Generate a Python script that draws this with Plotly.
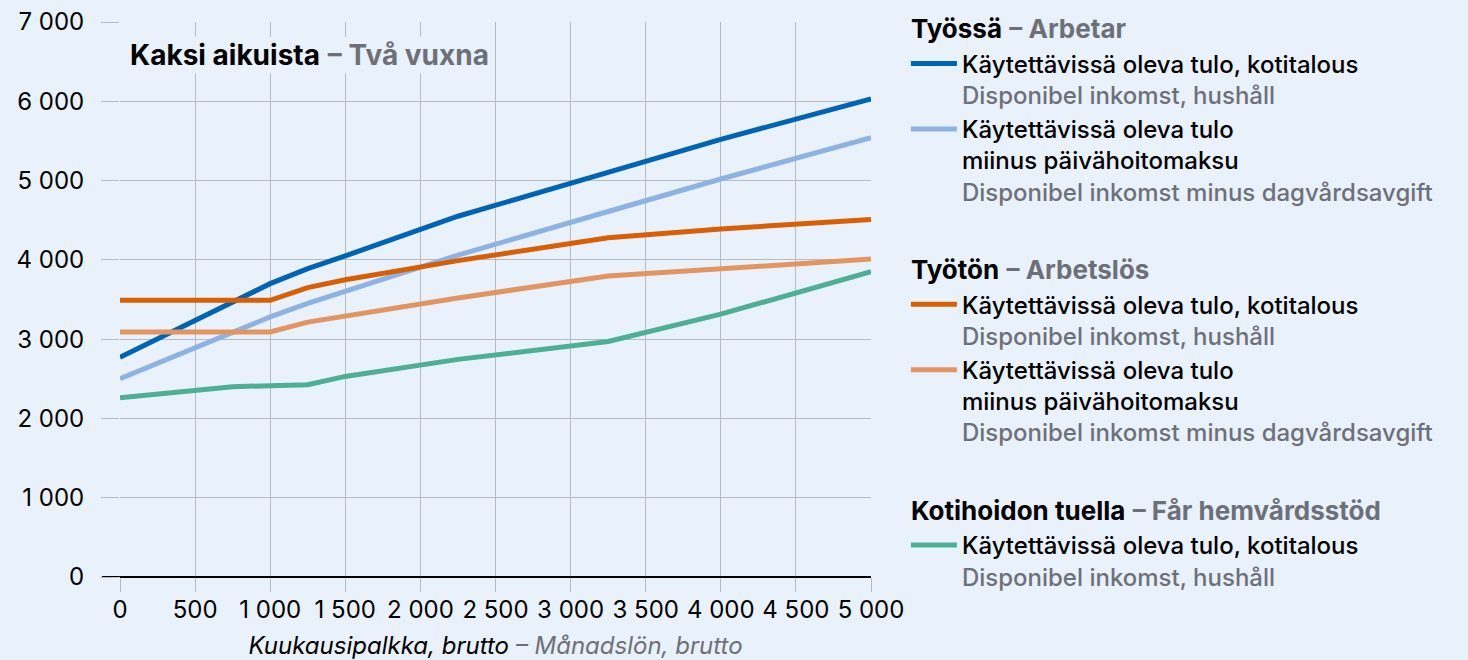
import plotly.graph_objects as go

# Data
salary = [0, 750, 1000, 1250, 1500, 2250, 3250, 4000, 5000]
employed_income = [2770, 3465, 3700, 3890, 4050, 4550, 5110, 5520, 6030]
employed_minus_fee = [2500, 3080, 3280, 3450, 3600, 4060, 4610, 5020, 5540]
unemployed_income = [3490, 3490, 3490, 3650, 3750, 3990, 4280, 4390, 4510]
unemployed_minus_fee = [3090, 3090, 3090, 3215, 3290, 3520, 3795, 3890, 4010]
homecare_income = [2260, 2400, 2412, 2425, 2530, 2745, 2970, 3315, 3850]

x_tick_vals = [0, 500, 1000, 1500, 2000, 2500, 3000, 3500, 4000, 4500, 5000]
x_tick_labels = ["0", "500", "1 000", "1 500", "2 000", "2 500", "3 000", "3 500", "4 000", "4 500", "5 000"]
y_tick_vals = [0, 1000, 2000, 3000, 4000, 5000, 6000, 7000]
y_tick_labels = ["0", "1 000", "2 000", "3 000", "4 000", "5 000", "6 000", "7 000"]

GREY = "#6E7079"
BG = "#E9F1FA"
GRID = "#B6BAC3"
FONT = "Inter"

def sv(t):
    return f"<span style='color:{GREY}'>{t}</span>"

name_income = "Käytettävissä oleva tulo, kotitalous<br>" + sv("Disponibel inkomst, hushåll")
name_fee = "Käytettävissä oleva tulo<br>miinus päivähoitomaksu<br>" + sv("Disponibel inkomst minus dagvårdsavgift")

series = [
    (employed_income, "#0064B4", name_income, "g1", f"<b>Työssä</b> <b>{sv('– Arbetar')}</b>"),
    (employed_minus_fee, "#8DB3E4", name_fee, "g1", None),
    (unemployed_income, "#D95F04", name_income, "g2", f"<b>Työtön</b> <b>{sv('– Arbetslös')}</b>"),
    (unemployed_minus_fee, "#E39561", name_fee, "g2", None),
    (homecare_income, "#4DAF94", name_income, "g3", f"<b>Kotihoidon tuella</b> <b>{sv('– Får hemvårdsstöd')}</b>"),
]

fig = go.Figure()
for vals, col, nm, grp, gtitle in series:
    tr = dict(
        x=salary, y=vals, mode="lines", name=nm,
        line=dict(color=col, width=5),
        legendgroup=grp, hoverinfo="skip",
    )
    if gtitle:
        tr["legendgrouptitle"] = dict(text=gtitle, font=dict(family=FONT, size=26, color="#000000"))
    fig.add_trace(go.Scatter(**tr))

fig.add_annotation(
    text=f"<b>Kaksi aikuista</b> <b>{sv('– Två vuxna')}</b>",
    xref="paper", yref="paper", x=0.011, y=0.94, xanchor="left", yanchor="middle",
    showarrow=False, bgcolor=BG, font=dict(family=FONT, size=28, color="#000000"),
)

# black extension of the zero line to the left of the axis
fig.add_shape(type="line", xref="paper", yref="y", x0=-18 / 751, x1=1, y0=0, y1=0,
              line=dict(color="#000000", width=2), layer="above")

fig.update_layout(
    width=1468, height=660,
    paper_bgcolor=BG, plot_bgcolor=BG,
    margin=dict(l=120, r=597, t=22, b=83, autoexpand=False),
    font=dict(family=FONT, size=24, color="#000000"),
    showlegend=True,
    legend=dict(
        x=1.0465, y=0.993, xanchor="left", yanchor="top", yref="container",
        traceorder="grouped", tracegroupgap=42, valign="top",
        font=dict(family=FONT, size=24, color="#000000", weight=500),
        bgcolor="rgba(0,0,0,0)", itemwidth=46, maxheight=1.0,
    ),
    xaxis=dict(
        range=[0, 5000], tickvals=x_tick_vals, ticktext=x_tick_labels,
        showgrid=True, gridcolor=GRID, gridwidth=1.3,
        ticks="outside", ticklen=14, tickcolor=GRID, tickwidth=1.3,
        zeroline=False, showline=False, ticklabelstandoff=-3,
        tickfont=dict(family=FONT, size=24),
        title=dict(
            text=f"<i>Kuukausipalkka, brutto</i> <i>{sv('– Månadslön, brutto')}</i>",
            font=dict(family=FONT, size=24), standoff=14,
        ),
    ),
    yaxis=dict(
        range=[0, 7000], tickvals=y_tick_vals, ticktext=y_tick_labels,
        showgrid=True, gridcolor=GRID, gridwidth=1.3,
        ticks="outside", ticklen=18, tickcolor=GRID, tickwidth=1.3,
        zeroline=True, zerolinecolor="#000000", zerolinewidth=2,
        showline=False, ticklabelstandoff=12,
        tickfont=dict(family=FONT, size=24),
    ),
)

fig.write_html(
    "out.html",
    config={"displayModeBar": False},
    post_script="document.body.style.margin='0';document.body.style.background='" + BG + "';",
)
